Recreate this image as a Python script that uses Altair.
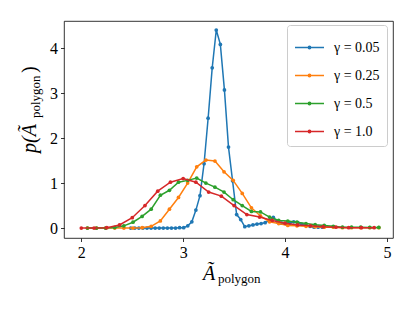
import altair as alt
import pandas as pd

# ---- data ----
labels = ["γ = 0.05", "γ = 0.25", "γ = 0.5", "γ = 1.0"]
colors = ["#1f77b4", "#ff7f0e", "#2ca02c", "#d62728"]

blue_x = [2.485, 2.525, 2.565, 2.605, 2.645, 2.685, 2.725, 2.765, 2.805, 2.845,
          2.885, 2.925, 2.965, 3.005, 3.045, 3.085, 3.125, 3.165, 3.205, 3.245,
          3.285, 3.325, 3.365, 3.405, 3.445, 3.485, 3.525, 3.565, 3.605, 3.645,
          3.685, 3.725, 3.765, 3.805, 3.845, 3.885, 3.925, 3.965, 4.005, 4.045,
          4.085, 4.125, 4.165, 4.205, 4.245, 4.285, 4.325, 4.365]
blue_y = [0, 0, 0, 0, 0, 0, 0, 0, 0, 0, 0, 0, 0.01, 0.01,
          0.05, 0.14, 0.40, 0.72, 1.43, 2.44, 3.56, 4.40, 4.08, 3.07,
          1.80, 1.05, 0.30, 0.19, 0.03, 0.05, 0.07, 0.09, 0.10, 0.12,
          0.17, 0.24, 0.14, 0.11, 0.10, 0.11, 0.14, 0.12, 0.08, 0.06,
          0.04, 0.02, 0.02, 0.02]

mid_x = [2.06, 2.149, 2.239, 2.328, 2.418, 2.507, 2.597, 2.686, 2.776, 2.865,
         2.954, 3.044, 3.133, 3.223, 3.312, 3.401, 3.491, 3.58, 3.67, 3.759,
         3.848, 3.938, 4.027, 4.117, 4.206, 4.296, 4.385, 4.474, 4.564, 4.653,
         4.743, 4.832, 4.921]
orange_y = [0, 0, 0, 0, 0, 0, 0.01, 0.04, 0.16, 0.42, 0.68, 1.0, 1.36, 1.51,
            1.49, 1.25, 1.06, 0.77, 0.45, 0.27, 0.14, 0.10, 0.06, 0.05, 0.04,
            0.03, 0.02, 0.02, 0.01, 0.01, 0.01, 0.01, 0.01]
green_y = [0, 0, 0, 0.015, 0.05, 0.13, 0.26, 0.42, 0.73, 0.84, 1.02, 1.06,
           1.11, 1.00, 0.91, 0.80, 0.63, 0.50, 0.37, 0.36, 0.245, 0.17, 0.155,
           0.13, 0.10, 0.075, 0.06, 0.04, 0.02, 0.02, 0.02, 0.015, 0.015]

red_x = [2.0, 2.125, 2.25, 2.375, 2.5, 2.625, 2.75, 2.875, 3.0, 3.125, 3.25,
         3.375, 3.5, 3.625, 3.75, 3.875, 4.0, 4.125, 4.25, 4.375, 4.5, 4.625,
         4.75, 4.875]
red_y = [0, 0, 0.01, 0.07, 0.23, 0.50, 0.82, 1.02, 1.10, 1.02, 0.80, 0.71,
         0.50, 0.30, 0.245, 0.17, 0.11, 0.07, 0.05, 0.03, 0.02, 0.01, 0.01, 0.01]

x_ticks = [2, 3, 4, 5]
y_ticks = [0, 1, 2, 3, 4]

series = [(labels[0], blue_x, blue_y), (labels[1], mid_x, orange_y),
          (labels[2], mid_x, green_y), (labels[3], red_x, red_y)]
rows = []
for name, xs, ys in series:
    for xv, yv in zip(xs, ys):
        rows.append({"series": name, "x": xv, "y": yv})
df = pd.DataFrame(rows)

FONT = "Liberation Serif"
xscale = alt.Scale(domain=[1.83, 5.06], nice=False, zero=False)
yscale = alt.Scale(domain=[-0.22, 4.6], nice=False, zero=False)
cscale = alt.Scale(domain=labels, range=colors)

sym = "M-1,0H1M-0.08,0A0.08,0.08,0,1,1,0.08,0A0.08,0.08,0,1,1,-0.08,0"

layers = []
for name, _, _ in series:
    layers.append(
        alt.Chart(df)
        .transform_filter(alt.datum.series == name)
        .mark_line(strokeWidth=1.5, point=alt.OverlayMarkDef(filled=True, size=14))
        .encode(
            x=alt.X("x:Q", scale=xscale,
                    axis=alt.Axis(values=x_ticks, format="d", title=None)),
            y=alt.Y("y:Q", scale=yscale,
                    axis=alt.Axis(values=y_ticks, format="d", title=None)),
            color=alt.Color("series:N", scale=cscale,
                            legend=alt.Legend(title=None, orient="none",
                                              legendX=223, legendY=4,
                                              symbolType=sym, symbolSize=841,
                                              symbolStrokeWidth=1.5,
                                              labelFont=FONT, labelFontSize=14,
                                              labelColor="black",
                                              strokeColor="#cccccc",
                                              fillColor="rgba(255,255,255,0.8)",
                                              cornerRadius=3, padding=7,
                                              rowPadding=5, labelOffset=9)),
        )
    )

one = pd.DataFrame({"a": [0]})


def txt(s, x, y, size, italic=True, angle=0):
    kw = dict(font=FONT, fontSize=size, align="left", baseline="alphabetic",
              color="black")
    if italic:
        kw["fontStyle"] = "italic"
    if angle:
        kw["angle"] = angle
    return alt.Chart(one).mark_text(text=s, **kw).encode(
        x=alt.value(x), y=alt.value(y))


titles = [
    txt("Ã", 139, 259, 20),
    txt("polygon", 154, 262, 13, italic=False),
    txt("p(Ã", -28, 132, 20, angle=270),
    txt("polygon", -24, 97, 13, italic=False, angle=270),
    txt(")", -28, 52, 20, italic=False, angle=270),
]

chart = (
    alt.layer(*layers, *titles)
    .properties(width=329, height=217,
                autosize=alt.AutoSizeParams(type="none"),
                padding={"left": 56, "top": 13, "right": 14, "bottom": 57})
    .configure_view(stroke="black", strokeWidth=0.8)
    .configure_axis(labelFont=FONT, labelFontSize=16, labelColor="black",
                    tickColor="black", tickSize=3.5, tickWidth=0.8,
                    domain=False, grid=False, labelPadding=3)
)

chart.save("out.html", embed_options={"renderer": "svg", "actions": False})
